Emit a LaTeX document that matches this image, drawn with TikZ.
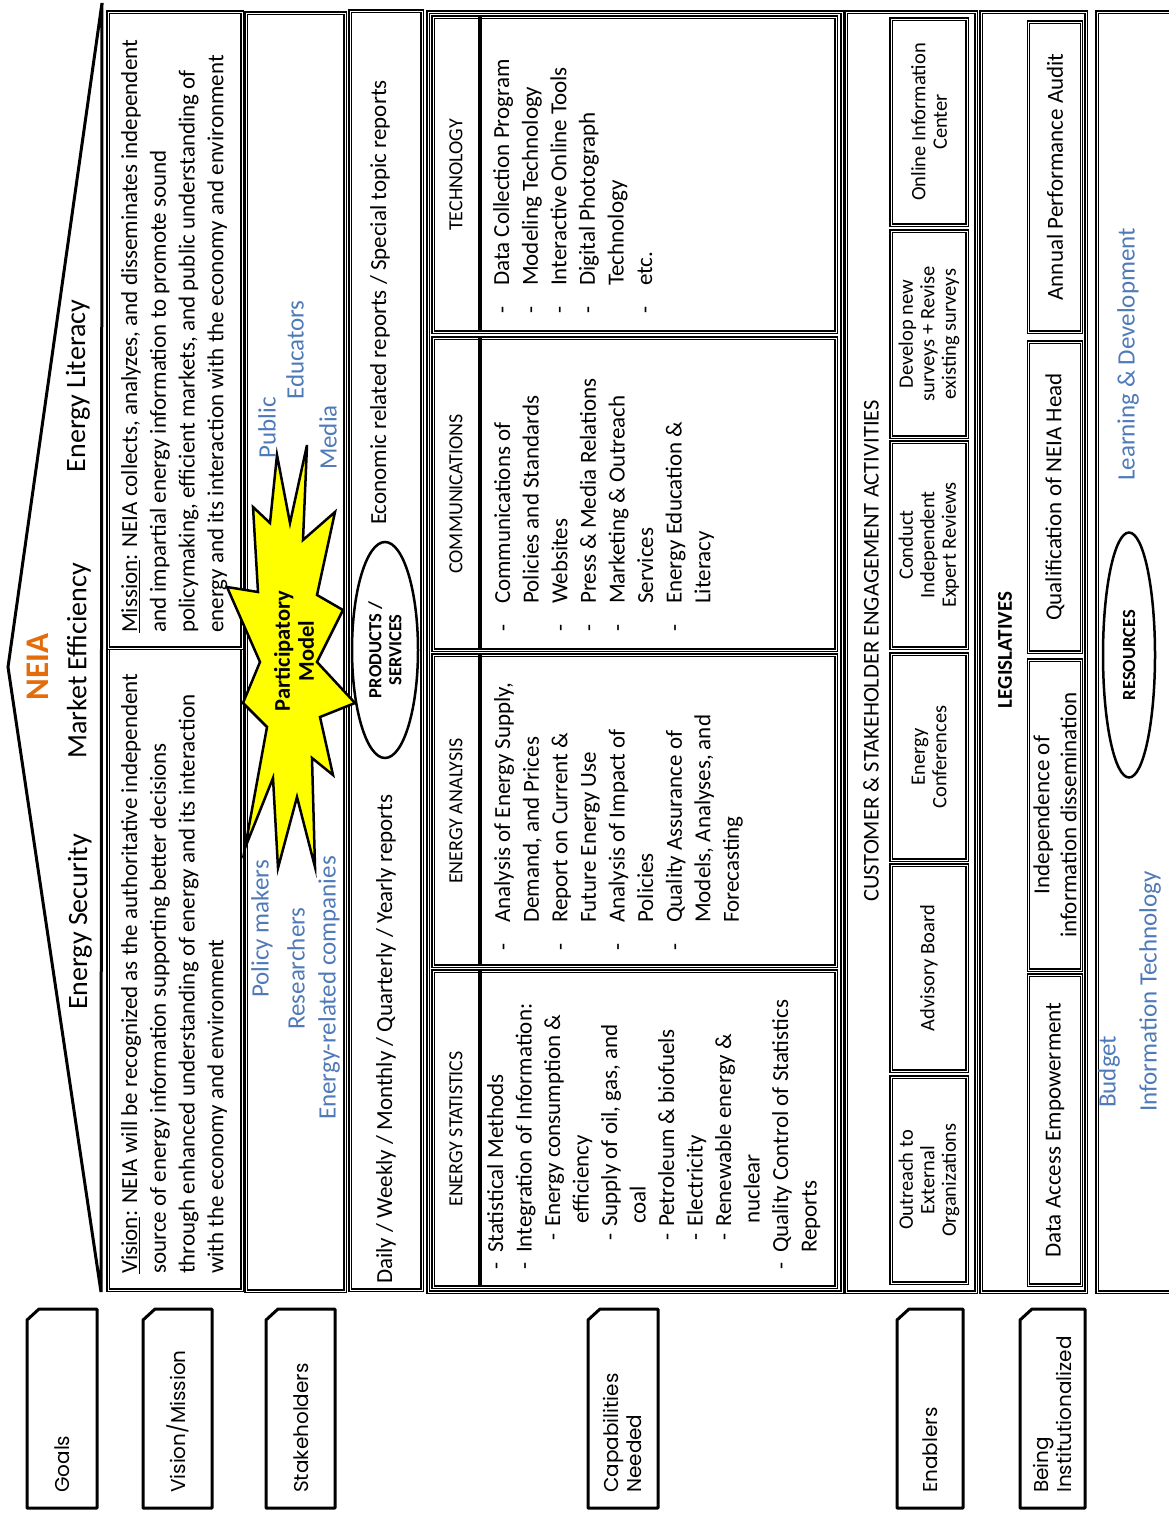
\documentclass[tikz,border=0pt]{standalone}
\usepackage{fontspec}
\setmainfont{Carlito}
\newfontfamily\tabfont{Poppins}
\usetikzlibrary{shapes.geometric}
\definecolor{neiaorange}{RGB}{228,108,10}
\definecolor{stakeblue}{RGB}{79,122,185}
\definecolor{burstyellow}{RGB}{255,255,0}
\newcommand{\fs}[2]{\fontsize{#1}{#2}\selectfont}
\newcommand{\dsh}[1]{\makebox[#1][l]{-}}

\begin{document}
\begin{tikzpicture}[x=1pt,y=-1pt,
  vtext/.style={rotate=90,inner sep=0pt},
  housebox/.style={draw,line width=1.5pt,double,double distance=0.9pt},
  tabshape/.style={draw,line width=3pt,line join=round},
  ebox/.style={draw,line width=1.4pt,double,double distance=0.8pt,rotate=90,inner sep=1pt,
    minimum width=206pt,minimum height=76pt,align=center,font=\fs{20.5}{21.5}},
  lbox/.style={draw,line width=1.4pt,double,double distance=0.8pt,rotate=90,inner sep=1pt,
    minimum width=310pt,minimum height=53pt,align=center,font=\fs{23}{27}}]

\useasboundingbox (0,0) rectangle (1169,1517);

% roof and goals
\draw[line width=3pt] (102,3) -- (8,667) -- (101,1292) -- cycle;
\node[vtext,font=\bfseries\fs{33}{36},text=neiaorange] (neia) at (38,667) {NEIA};
\node[vtext,font=\fs{28}{30}] (goal1) at (80,922) {Energy Security};
\node[vtext,font=\fs{28}{30}] (goal2) at (79,661) {Market Efficiency};
\node[vtext,font=\fs{28}{30}] (goal3) at (78,386) {Energy Literacy};

% vision / mission
\draw[housebox] (108,648) rectangle (242,1290);
\draw[housebox] (108,12) rectangle (242,648);
\node[vtext,anchor=north west,align=left,font=\fs{23}{28.7}] (vision) at (121,1274)
  {\underline{Vision}: NEIA will be recognized as the authoritative independent\\
   source of energy information supporting better decisions\\
   through enhanced understanding of energy and its interaction\\
   with the economy and environment};
\node[vtext,anchor=north west,align=left,font=\fs{23}{28.7}] (mission) at (121,633)
  {\underline{Mission}: NEIA collects, analyzes, and disseminates independent\\
   and impartial energy information to promote sound\\
   policymaking, efficient markets, and public understanding of\\
   energy and its interaction with the economy and environment};

% stakeholders
\draw[housebox] (246,13) rectangle (345,1291);
\node[vtext,anchor=west,font=\fs{25}{28},text=stakeblue] (sh1) at (262,998) {Policy makers};
\node[vtext,anchor=west,font=\fs{25}{28},text=stakeblue] (sh2) at (296,1030) {Researchers};
\node[vtext,anchor=west,font=\fs{25}{28},text=stakeblue] (sh3) at (329,1120) {Energy-related companies};
\node[vtext,anchor=east,font=\fs{25}{28},text=stakeblue] (sh4) at (267,397) {Public};
\node[vtext,anchor=east,font=\fs{25}{28},text=stakeblue] (sh5) at (295,300) {Educators};
\node[vtext,anchor=east,font=\fs{25}{28},text=stakeblue] (sh6) at (328,405) {Media};

% products / services
\draw[housebox] (350,11) rectangle (422,1290);
\node[vtext,anchor=west,font=\fs{23}{26}] (prod1) at (386,1284) {Daily / Weekly / Monthly / Quarterly / Yearly reports};
\node[vtext,anchor=east,font=\fs{23}{26}] (prod2) at (380,80) {Economic related reports / Special topic reports};

% participatory model
\draw[fill=burstyellow,line width=2.5pt,line join=miter]
  (307,445) -- (303,540) -- (335,512) -- (317,595) -- (343,610) -- (317,662)
  -- (355,703) -- (320,717) -- (333,775) -- (312,758) -- (315,867) -- (297,797)
  -- (278,868) -- (273,778) -- (245,848) -- (267,727) -- (243,703) -- (260,662)
  -- (227,587) -- (258,592) -- (253,507) -- (270,523) -- (277,455) -- (290,523) -- cycle;
\node[vtext,align=center,font=\bfseries\fs{22.5}{24}] (pmodel) at (294,651) {Participatory\\Model};
\node[draw,ellipse,line width=2.5pt,fill=white,rotate=90,inner sep=0pt,minimum width=216pt,
  minimum height=66pt,align=center,font=\bfseries\fs{18.5}{20}] (prod) at (385,650) {PRODUCTS /\\SERVICES};

% capabilities
\draw[housebox] (428,12) rectangle (842,1292);
\draw[housebox] (433,17) rectangle (836,332);
\draw[housebox] (433,338) rectangle (836,650);
\draw[housebox] (433,655) rectangle (836,966);
\draw[housebox] (433,971) rectangle (836,1287);
\draw[line width=3.5pt] (480,17) -- (480,332);
\draw[line width=3.5pt] (480,338) -- (480,650);
\draw[line width=3.5pt] (480,655) -- (480,966);
\draw[line width=3.5pt] (480,971) -- (480,1287);
\node[vtext,font=\fs{20}{22}] (techhead) at (456,175) {TECHNOLOGY};
\node[vtext,font=\fs{20}{22}] (commhead) at (456,494) {COMMUNICATIONS};
\node[vtext,font=\fs{20}{22}] (anahead) at (456,811) {ENERGY ANALYSIS};
\node[vtext,font=\fs{20}{22}] (stathead) at (456,1129) {ENERGY STATISTICS};

\node[vtext,anchor=north west,align=left,font=\fs{23}{28.6}] (techlist) at (493,314)
  {\dsh{28pt}Data Collection Program\\
   \dsh{28pt}Modeling Technology\\
   \dsh{28pt}Interactive Online Tools\\
   \dsh{28pt}Digital Photograph\\
   \hspace*{28pt}Technology\\
   \dsh{28pt}etc.};
\node[vtext,anchor=north west,align=left,font=\fs{23}{28.6}] (commlist) at (494,632)
  {\dsh{28pt}Communications of\\
   \hspace*{28pt}Policies and Standards\\
   \dsh{28pt}Websites\\
   \dsh{28pt}Press \& Media Relations\\
   \dsh{28pt}Marketing \& Outreach\\
   \hspace*{28pt}Services\\
   \dsh{28pt}Energy Education \&\\
   \hspace*{28pt}Literacy};
\node[vtext,anchor=north west,align=left,font=\fs{23}{28.6}] (analist) at (494,951)
  {\dsh{28pt}Analysis of Energy Supply,\\
   \hspace*{28pt}Demand, and Prices\\
   \dsh{28pt}Report on Current \&\\
   \hspace*{28pt}Future Energy Use\\
   \dsh{28pt}Analysis of Impact of\\
   \hspace*{28pt}Policies\\
   \dsh{28pt}Quality Assurance of\\
   \hspace*{28pt}Models, Analyses, and\\
   \hspace*{28pt}Forecasting};
\node[vtext,anchor=north west,align=left,font=\fs{23}{28.5}] (statlist) at (487,1270)
  {\dsh{17pt}Statistical Methods\\
   \dsh{17pt}Integration of Information:\\
   \hspace*{29pt}\dsh{14pt}Energy consumption \&\\
   \hspace*{46pt}efficiency\\
   \hspace*{29pt}\dsh{14pt}Supply of oil, gas, and\\
   \hspace*{46pt}coal\\
   \hspace*{29pt}\dsh{14pt}Petroleum \& biofuels\\
   \hspace*{29pt}\dsh{14pt}Electricity\\
   \hspace*{29pt}\dsh{14pt}Renewable energy \&\\
   \hspace*{46pt}nuclear\\
   \dsh{17pt}Quality Control of Statistics\\
   \hspace*{17pt}Reports};

% enablers
\draw[housebox] (846,12) rectangle (976,1292);
\node[vtext,font=\fs{22.5}{24}] (enghead) at (871,651) {CUSTOMER \& STAKEHOLDER ENGAGEMENT ACTIVITIES};
\node[ebox] (en1) at (929,122) {Online Information\\Center};
\node[ebox] (en2) at (929,334) {Develop new\\surveys + Revise\\existing surveys};
\node[ebox] (en3) at (929,545) {Conduct\\Independent\\Expert Reviews};
\node[ebox] (en4) at (929,757) {Energy\\Conferences};
\node[ebox] (en5) at (929,968) {Advisory Board};
\node[ebox] (en6) at (929,1180) {Outreach to\\External\\Organizations};

% legislatives
\draw[housebox] (981,12) rectangle (1086,1292);
\node[vtext,font=\bfseries\fs{21}{23}] (leghead) at (1005,650) {LEGISLATIVES};
\node[lbox] (lg1) at (1055,177) {Annual Performance Audit};
\node[lbox] (lg2) at (1055,497) {Qualification of NEIA Head};
\node[lbox] (lg3) at (1055,815) {Independence of\\information dissemination};
\node[lbox] (lg4) at (1055,1130) {Data Access Empowerment};

% resources
\draw[housebox] (1172,12) -- (1097,12) -- (1097,1292) -- (1172,1292);
\node[draw,ellipse,line width=2.5pt,rotate=90,inner sep=0pt,minimum width=245pt,
  minimum height=52pt,font=\bfseries\fs{18.5}{20}] (res) at (1129,655) {RESOURCES};
\node[vtext,anchor=west,font=\fs{25}{28},text=stakeblue] (rs1) at (1109,1108) {Budget};
\node[vtext,anchor=west,font=\fs{25}{28},text=stakeblue] (rs2) at (1150,1112) {Information Technology};
\node[vtext,anchor=west,font=\fs{25}{28},text=stakeblue] (rs3) at (1128,481) {Learning \& Development};

% row labels
\draw[tabshape] (27,1320) -- (39,1309) -- (97,1309) -- (97,1508) -- (27,1508) -- cycle;
\node[vtext,anchor=west,font=\tabfont\fs{20}{23}] (lab1) at (62,1493) {Goals};
\draw[tabshape] (143,1320) -- (155,1309) -- (212,1309) -- (212,1508) -- (143,1508) -- cycle;
\node[vtext,anchor=west,font=\tabfont\fs{20}{23}] (lab2) at (178,1493) {Vision/Mission};
\draw[tabshape] (266,1320) -- (278,1309) -- (335,1309) -- (335,1508) -- (266,1508) -- cycle;
\node[vtext,anchor=west,font=\tabfont\fs{20}{23}] (lab3) at (301,1493) {Stakeholders};
\draw[tabshape] (588,1320) -- (600,1309) -- (658,1309) -- (658,1508) -- (588,1508) -- cycle;
\node[vtext,anchor=west,align=left,font=\tabfont\fs{20}{23}] (lab4) at (622,1493) {Capabilities\\Needed};
\draw[tabshape] (897,1320) -- (909,1309) -- (963,1309) -- (963,1508) -- (897,1508) -- cycle;
\node[vtext,anchor=west,font=\tabfont\fs{20}{23}] (lab5) at (930,1493) {Enablers};
\draw[tabshape] (1020,1320) -- (1032,1309) -- (1085,1309) -- (1085,1508) -- (1020,1508) -- cycle;
\node[vtext,anchor=west,align=left,font=\tabfont\fs{20}{23}] (lab6) at (1052,1493) {Being\\Institutionalized};

\end{tikzpicture}
\end{document}
